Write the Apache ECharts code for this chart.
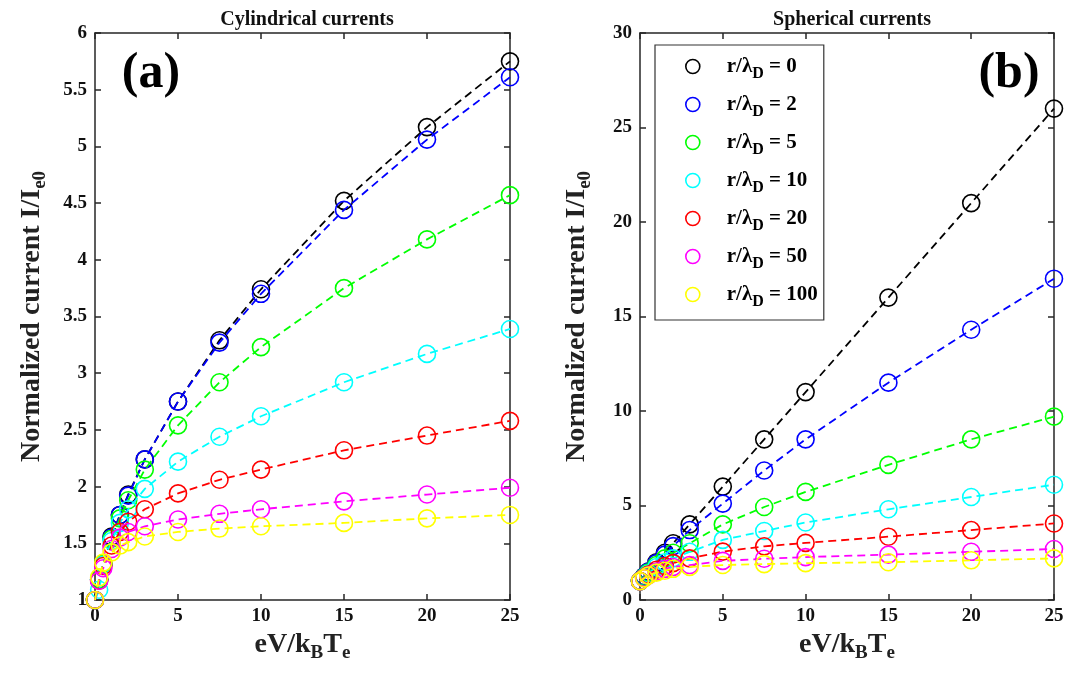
<!DOCTYPE html>
<html>
<head>
<meta charset="utf-8">
<script src="https://cdn.jsdelivr.net/npm/echarts@6/dist/echarts.min.js"></script>
<style>html,body{margin:0;padding:0;background:#fff;}#c{width:1074px;height:682px;}</style>
</head>
<body>
<div id="c"></div>
<script>
// eV/kBTe sample points
var xVals = [0, 0.25, 0.5, 1, 1.5, 2, 3, 5, 7.5, 10, 15, 20, 25];
var seriesNames = ['0', '2', '5', '10', '20', '50', '100'];
var seriesColors = ['#000000', '#0000ff', '#00ff00', '#00ffff', '#ff0000', '#ff00ff', '#ffff00'];

// Panel (a): cylindrical currents
var cyl0   = [1, 1.18, 1.32, 1.56, 1.75, 1.93, 2.24, 2.75, 3.29, 3.74, 4.52, 5.17, 5.75];
var cyl2   = [1, 1.18, 1.32, 1.55, 1.75, 1.92, 2.24, 2.75, 3.27, 3.70, 4.44, 5.06, 5.61];
var cyl5   = [1, 1.18, 1.32, 1.54, 1.72, 1.88, 2.15, 2.54, 2.92, 3.23, 3.75, 4.18, 4.57];
var cyl10  = [1, 1.09, 1.31, 1.52, 1.68, 1.80, 1.98, 2.22, 2.44, 2.62, 2.92, 3.17, 3.39];
var cyl20  = [1, 1.17, 1.30, 1.48, 1.60, 1.69, 1.80, 1.94, 2.06, 2.15, 2.32, 2.45, 2.58];
var cyl50  = [1, 1.17, 1.28, 1.45, 1.55, 1.60, 1.65, 1.71, 1.76, 1.80, 1.87, 1.93, 1.99];
var cyl100 = [1, 1.20, 1.33, 1.42, 1.48, 1.51, 1.56, 1.60, 1.63, 1.65, 1.68, 1.72, 1.75];

// Panel (b): spherical currents
var sph0   = [1, 1.25, 1.5, 2.0, 2.5, 3.0, 4.0, 6.0, 8.5, 11.0, 16.0, 21.0, 26.0];
var sph2   = [1, 1.25, 1.5, 1.95, 2.4, 2.85, 3.7, 5.1, 6.85, 8.5, 11.5, 14.3, 17.0];
var sph5   = [1, 1.23, 1.45, 1.85, 2.2, 2.5, 3.0, 4.0, 4.92, 5.72, 7.15, 8.5, 9.7];
var sph10  = [1, 1.2, 1.4, 1.75, 2.0, 2.2, 2.55, 3.18, 3.65, 4.1, 4.8, 5.45, 6.1];
var sph20  = [1, 1.18, 1.35, 1.6, 1.8, 1.95, 2.2, 2.56, 2.84, 3.02, 3.35, 3.7, 4.05];
var sph50  = [1, 1.16, 1.3, 1.5, 1.65, 1.75, 1.85, 2.07, 2.18, 2.27, 2.4, 2.55, 2.7];
var sph100 = [1, 1.15, 1.3, 1.45, 1.55, 1.65, 1.75, 1.85, 1.9, 1.95, 2.0, 2.1, 2.2];

var cylData = [cyl0, cyl2, cyl5, cyl10, cyl20, cyl50, cyl100];
var sphData = [sph0, sph2, sph5, sph10, sph20, sph50, sph100];

var leftTicks = [1, 1.5, 2, 2.5, 3, 3.5, 4, 4.5, 5, 5.5, 6];
var rightTicks = [0, 5, 10, 15, 20, 25, 30];
var xTicks = [0, 5, 10, 15, 20, 25];

var FF = '"Liberation Serif", "Times New Roman", serif';
var AX = '#262626';

function mkSeries(data, idx) {
  return data.map(function (vals, k) {
    return {
      name: seriesNames[k],
      type: 'line',
      xAxisIndex: idx * 2,
      yAxisIndex: idx * 2,
      data: xVals.map(function (x, i) { return [x, vals[i]]; }),
      symbol: 'circle',
      symbolSize: 17,
      showSymbol: true,
      animation: false,
      z: 2 + k,
      lineStyle: { color: seriesColors[k], width: 1.8, type: [8, 5] },
      itemStyle: { color: 'rgba(0,0,0,0)', borderColor: seriesColors[k], borderWidth: 1.6 }
    };
  });
}

var tickLabelStyle = { fontFamily: FF, fontWeight: 'bold', fontSize: 19, color: '#111' };
var nameRich = {
  b: { fontFamily: FF, fontWeight: 'bold', fontSize: 28, color: '#222', lineHeight: 28, verticalAlign: 'top' },
  s: { fontFamily: FF, fontWeight: 'bold', fontSize: 19, color: '#222', lineHeight: 19, verticalAlign: 'top', padding: [13, 0, 0, 0] }
};

function xAxisPair(gi) {
  return [
    {
      type: 'value', gridIndex: gi, min: 0, max: 25, interval: 5, position: 'bottom',
      name: '{b|eV/k}{s|B}{b|T}{s|e}', nameLocation: 'middle', nameGap: 19,
      nameTextStyle: { fontFamily: FF, fontWeight: 'bold', fontSize: 28, rich: nameRich },
      axisLine: { show: true, onZero: false, lineStyle: { color: AX, width: 1.5 } },
      axisTick: { show: true, inside: true, length: 6, lineStyle: { color: AX, width: 1.5 } },
      axisLabel: Object.assign({ margin: 7, formatter: function (v) { return xTicks.indexOf(v) >= 0 ? String(v) : ''; } }, tickLabelStyle),
      splitLine: { show: false }
    },
    {
      type: 'value', gridIndex: gi, min: 0, max: 25, interval: 5, position: 'top',
      axisLine: { show: true, onZero: false, lineStyle: { color: AX, width: 1.5 } },
      axisTick: { show: true, inside: true, length: 6, lineStyle: { color: AX, width: 1.5 } },
      axisLabel: { show: false }, splitLine: { show: false }
    }
  ];
}

function yAxisPair(gi, min, max, interval, ticks, gap) {
  return [
    {
      type: 'value', gridIndex: gi, min: min, max: max, interval: interval, position: 'left',
      name: '{b|Normalized current I/I}{s|e0}', nameLocation: 'middle', nameGap: gap, nameRotate: 90,
      nameTextStyle: { fontFamily: FF, fontWeight: 'bold', fontSize: 28, rich: nameRich },
      axisLine: { show: true, onZero: false, lineStyle: { color: AX, width: 1.5 } },
      axisTick: { show: true, inside: true, length: 6, lineStyle: { color: AX, width: 1.5 } },
      axisLabel: Object.assign({ margin: 8, formatter: function (v) { return ticks.indexOf(v) >= 0 ? String(v) : ''; } }, tickLabelStyle),
      splitLine: { show: false }
    },
    {
      type: 'value', gridIndex: gi, min: min, max: max, interval: interval, position: 'right',
      axisLine: { show: true, onZero: false, lineStyle: { color: AX, width: 1.5 } },
      axisTick: { show: true, inside: true, length: 6, lineStyle: { color: AX, width: 1.5 } },
      axisLabel: { show: false }, splitLine: { show: false }
    }
  ];
}

var chart = echarts.init(document.getElementById('c'), null, { renderer: 'canvas' });
var xa = xAxisPair(0).concat(xAxisPair(1));
var ya = yAxisPair(0, 1, 6, 0.5, leftTicks, 49).concat(yAxisPair(1, 0, 30, 5, rightTicks, 49));

var series = mkSeries(cylData, 0).concat(mkSeries(sphData, 1));

var titleStyle = { fontFamily: FF, fontWeight: 'bold', fontSize: 20, color: '#111' };
var panelStyle = { fontFamily: FF, fontWeight: 'bold', fontSize: 50, color: '#000' };

chart.setOption({
  backgroundColor: '#ffffff',
  animation: false,
  title: [
    { text: 'Cylindrical currents', left: 302, top: 5, textAlign: 'center', textStyle: titleStyle },
    { text: 'Spherical currents', left: 847, top: 5, textAlign: 'center', textStyle: titleStyle },
    { text: '(a)', left: 146, top: 44, textAlign: 'center', textStyle: panelStyle },
    { text: '(b)', left: 1004, top: 44, textAlign: 'center', textStyle: panelStyle }
  ],
  legend: {
    data: seriesNames,
    orient: 'vertical',
    left: 655, top: 45,
    width: 171,
    padding: [11, 6, 10, 30],
    itemGap: 12,
    itemWidth: 14, itemHeight: 14,
    borderColor: '#333', borderWidth: 1.2,
    backgroundColor: '#fff',
    icon: 'circle',
    formatter: function (n) { return '{a|r/λ}{s|D}{a| = ' + n + '}'; },
    textStyle: {
      padding: [0, 0, 0, 22],
      rich: {
        a: { fontFamily: FF, fontWeight: 'bold', fontSize: 21, color: '#000', lineHeight: 21, verticalAlign: 'top' },
        s: { fontFamily: FF, fontWeight: 'bold', fontSize: 16, color: '#000', lineHeight: 16, verticalAlign: 'top', padding: [10, 0, 0, 0] }
      }
    },
    itemStyle: { color: 'rgba(0,0,0,0)', borderWidth: 1.6 }
  },
  grid: [
    { left: 95, right: 564, top: 33, bottom: 82 },
    { left: 640, right: 20, top: 33, bottom: 82 }
  ],
  xAxis: xa,
  yAxis: ya,
  series: series
});
</script>
</body>
</html>
